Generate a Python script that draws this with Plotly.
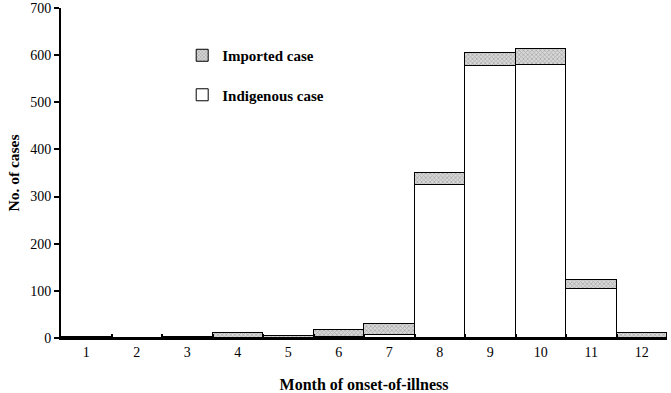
import plotly.graph_objects as go

months = ["1", "2", "3", "4", "5", "6", "7", "8", "9", "10", "11", "12"]
indigenous = [1, 0, 1, 1, 1, 2, 6, 325, 577, 580, 104, 0]
imported = [2, 1, 2, 9, 4, 16, 23, 26, 28, 34, 19, 11]
y_ticks = [0, 100, 200, 300, 400, 500, 600, 700]

FONT = "Liberation Serif"

fig = go.Figure()
fig.add_trace(go.Bar(
    x=months, y=indigenous, name="Indigenous case", legendgroup="b", legendrank=2,
    marker=dict(color="white", line=dict(color="black", width=1)),
))
fig.add_trace(go.Bar(
    x=months, y=imported, name="Imported case", legendgroup="a", legendrank=1,
    marker=dict(color="#c8c8c8", line=dict(color="black", width=1),
                pattern=dict(shape="x", size=3, solidity=0.45,
                             fgcolor="#7a7a7a", bgcolor="#d8d8d8")),
))

fig.update_layout(
    width=671, height=393,
    barmode="stack", bargap=0,
    plot_bgcolor="white", paper_bgcolor="white",
    margin=dict(l=61, r=4, t=8, b=55),
    font=dict(family=FONT, color="black", size=14),
    legend=dict(
        x=0.2, y=0.906, xanchor="left", yanchor="top",
        traceorder="grouped", tracegroupgap=17,
        font=dict(family=FONT, size=15, color="black", weight="bold"),
        bgcolor="rgba(0,0,0,0)", itemwidth=30,
    ),
    xaxis=dict(
        type="category", tickson="boundaries", ticks="inside", ticklen=4,
        tickcolor="black", tickwidth=1.5, automargin=False,
        showline=True, linecolor="black", linewidth=2, showgrid=False,
        title=dict(text="Month of onset-of-illness",
                   font=dict(family=FONT, size=16, weight="bold"), standoff=20),
        tickfont=dict(family=FONT, size=14),
    ),
    yaxis=dict(
        range=[0, 700], tickvals=y_ticks, ticks="outside", ticklen=5,
        tickcolor="black", tickwidth=1.5, automargin=False,
        showline=True, linecolor="black", linewidth=2, showgrid=False,
        zeroline=False,
        title=dict(text="No. of cases",
                   font=dict(family=FONT, size=15.5, weight="bold"), standoff=7),
        tickfont=dict(family=FONT, size=14),
    ),
)

fig.write_html("out.html", config={"displayModeBar": False},
               post_script="document.body.style.margin='0';")
